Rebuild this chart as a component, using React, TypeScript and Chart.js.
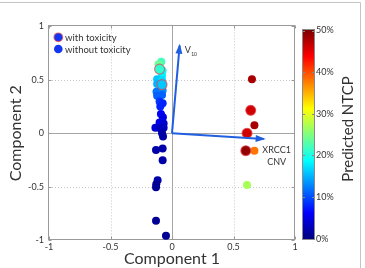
import { useEffect, useRef } from "react";
import { Chart, registerables } from "chart.js";

Chart.register(...registerables);

// Patient scores on the first two principal components
const pc1 = [
  -0.087, -0.109, -0.101, -0.076, -0.081, -0.121, -0.081, -0.121, -0.081,
  -0.126, -0.076, -0.121, -0.081, -0.101, -0.076, -0.095, -0.09, -0.074,
  -0.101, -0.068, -0.135, -0.095, -0.068, -0.081, -0.073, -0.13, -0.076,
  -0.076, -0.117, -0.128, -0.13, -0.13, -0.049,
  0.65, 0.64, 0.67, 0.61, 0.6, 0.67, 0.61,
];
const pc2 = [
  0.67, 0.645, 0.6, 0.585, 0.54, 0.505, 0.495, 0.46, 0.455,
  0.387, 0.4, 0.35, 0.357, 0.297, 0.28, 0.25, 0.18, 0.15,
  0.1, 0.09, 0.05, 0.045, 0.05, 0.0, -0.03, -0.158, -0.143,
  -0.253, -0.44, -0.477, -0.506, -0.82, -0.96,
  0.505, 0.214, 0.074, 0.0, -0.164, -0.164, -0.486,
];
// Predicted NTCP (%) for each patient
const ntcp = [
  22, 24, 21, 19, 18, 16, 17, 15, 16,
  12, 13, 11, 11, 9, 8, 8, 6, 5,
  5, 4, 4, 3, 3, 2, 2, 2, 2,
  2, 2, 1, 1, 1, 1,
  48, 46, 48, 46, 49, 38, 27,
];
// 1 = observed toxicity
const toxicity = [
  0, 0, 1, 0, 0, 0, 0, 0, 1,
  0, 0, 0, 0, 0, 0, 0, 0, 0,
  0, 0, 0, 0, 0, 0, 0, 0, 0,
  0, 0, 0, 0, 0, 0,
  0, 1, 0, 1, 1, 0, 0,
];

// Variable loadings shown as arrows
const loadingX = [0.062, 0.745];
const loadingY = [0.82, -0.054];

const axisTicks = [-1, -0.5, 0, 0.5, 1];
const ntcpTicks = [0, 10, 20, 30, 40, 50];
const legendLabels = ["with toxicity", "without toxicity"];

const FONT = "Lato, 'Open Sans', sans-serif";
const TEXT = "#333333";
const ARROW = "#1f5fe0";
const RING = "rgba(225,70,80,0.75)";
const LEGEND_BLUE = "#1336f2";

function jet(v: number): string {
  const t = Math.max(0, Math.min(1, v / 50));
  const c = (x: number) =>
    Math.round(255 * Math.max(0, Math.min(1, 1.5 - Math.abs(x))));
  return `rgb(${c(4 * t - 3)},${c(4 * t - 2)},${c(4 * t - 1)})`;
}

const crisp = (v: number) => Math.round(v) + 0.5;

const framePlugin = {
  id: "frame",
  beforeDatasetsDraw(chart: any) {
    const { ctx, chartArea: a, scales } = chart;
    const x = scales.x;
    const y = scales.y;
    ctx.save();
    ctx.lineWidth = 1;
    // dotted grid
    ctx.strokeStyle = "#c8c8c8";
    ctx.setLineDash([1, 2]);
    for (const v of axisTicks) {
      if (v === 0 || Math.abs(v) === 1) continue;
      const px = crisp(x.getPixelForValue(v));
      ctx.beginPath();
      ctx.moveTo(px, a.top);
      ctx.lineTo(px, a.bottom);
      ctx.stroke();
      const py = crisp(y.getPixelForValue(v));
      ctx.beginPath();
      ctx.moveTo(a.left, py);
      ctx.lineTo(a.right, py);
      ctx.stroke();
    }
    // zero lines
    ctx.setLineDash([]);
    ctx.strokeStyle = "#a6a6a6";
    const x0 = crisp(x.getPixelForValue(0));
    const y0 = crisp(y.getPixelForValue(0));
    ctx.beginPath();
    ctx.moveTo(x0, a.top);
    ctx.lineTo(x0, a.bottom);
    ctx.moveTo(a.left, y0);
    ctx.lineTo(a.right, y0);
    ctx.stroke();
    // box
    ctx.strokeStyle = "#9a9a9a";
    const l = crisp(a.left) - 1;
    const r = crisp(a.right) - 1;
    const t = crisp(a.top) - 1;
    const b = crisp(a.bottom) - 1;
    ctx.strokeRect(l, t, r - l, b - t);
    // inward tick marks
    ctx.beginPath();
    for (const v of axisTicks) {
      const px = crisp(x.getPixelForValue(v));
      ctx.moveTo(px, b);
      ctx.lineTo(px, b - 3);
      ctx.moveTo(px, t);
      ctx.lineTo(px, t + 3);
      const py = crisp(y.getPixelForValue(v));
      ctx.moveTo(l, py);
      ctx.lineTo(l + 3, py);
      ctx.moveTo(r, py);
      ctx.lineTo(r - 3, py);
    }
    ctx.stroke();
    ctx.restore();
  },
};

const overlayPlugin = {
  id: "overlay",
  afterDatasetsDraw(chart: any) {
    const { ctx, scales } = chart;
    const x = scales.x;
    const y = scales.y;
    ctx.save();
    // arrowheads
    loadingX.forEach((lx, i) => {
      const x1 = x.getPixelForValue(0);
      const y1 = y.getPixelForValue(0);
      const x2 = x.getPixelForValue(lx);
      const y2 = y.getPixelForValue(loadingY[i]);
      const ang = Math.atan2(y2 - y1, x2 - x1);
      const len = 8;
      const half = 3.5;
      ctx.fillStyle = ARROW;
      ctx.beginPath();
      ctx.moveTo(x2 + Math.cos(ang) * 2, y2 + Math.sin(ang) * 2);
      ctx.lineTo(
        x2 - Math.cos(ang) * len + Math.sin(ang) * half,
        y2 - Math.sin(ang) * len - Math.cos(ang) * half
      );
      ctx.lineTo(
        x2 - Math.cos(ang) * len - Math.sin(ang) * half,
        y2 - Math.sin(ang) * len + Math.cos(ang) * half
      );
      ctx.closePath();
      ctx.fill();
    });
    // loading labels
    ctx.fillStyle = TEXT;
    ctx.textBaseline = "middle";
    const vx = x.getPixelForValue(loadingX[0]);
    const vy = y.getPixelForValue(loadingY[0]);
    ctx.font = `9px ${FONT}`;
    ctx.textAlign = "left";
    ctx.fillText("V", vx + 5, vy + 4);
    const vw = ctx.measureText("V").width;
    ctx.font = `5px ${FONT}`;
    ctx.fillText("10", vx + 5.5 + vw, vy + 9);
    const cx = x.getPixelForValue(loadingX[1]);
    const cy = y.getPixelForValue(loadingY[1]);
    ctx.font = `9px ${FONT}`;
    ctx.textAlign = "center";
    ctx.fillText("XRCC1", cx + 13, cy + 11);
    ctx.fillText("CNV", cx + 13, cy + 23);

    // legend
    const lx = 58.3;
    const ly = [37.3, 49];
    ctx.textAlign = "left";
    ctx.font = `9.5px ${FONT}`;
    legendLabels.forEach((lab, i) => {
      ctx.beginPath();
      ctx.arc(lx, ly[i], 4.3, 0, Math.PI * 2);
      ctx.fillStyle = LEGEND_BLUE;
      ctx.fill();
      if (i === 0) {
        ctx.strokeStyle = RING;
        ctx.lineWidth = 1.2;
        ctx.stroke();
      }
      ctx.fillStyle = TEXT;
      ctx.fillText(lab, 65, ly[i] + 0.5);
    });
    ctx.restore();
  },
  afterDraw(chart: any) {
    const { ctx, scales } = chart;
    const cb = scales.cbar;
    ctx.save();
    // colour bar
    const left = 303;
    const right = 314;
    const top = cb.getPixelForValue(50);
    const bottom = cb.getPixelForValue(0);
    for (let py = Math.floor(top); py < Math.ceil(bottom); py++) {
      const v = cb.getValueForPixel(py + 0.5);
      ctx.fillStyle = jet(v);
      ctx.fillRect(left, py, right - left, 1);
    }
    ctx.strokeStyle = "#8a8a8a";
    ctx.lineWidth = 1;
    ctx.strokeRect(
      left - 0.5,
      Math.floor(top) - 0.5,
      right - left + 1,
      Math.ceil(bottom) - Math.floor(top) + 1
    );
    ctx.beginPath();
    for (const v of ntcpTicks) {
      const py = crisp(cb.getPixelForValue(v));
      ctx.moveTo(right, py);
      ctx.lineTo(right - 2, py);
      ctx.moveTo(left, py);
      ctx.lineTo(left + 2, py);
    }
    ctx.stroke();
    // colour bar title
    ctx.fillStyle = TEXT;
    ctx.font = `15px ${FONT}`;
    ctx.textAlign = "center";
    ctx.textBaseline = "middle";
    ctx.translate(348, 129);
    ctx.rotate(-Math.PI / 2);
    ctx.fillText("Predicted NTCP", 0, 0);
    ctx.restore();
    // outer frame
    ctx.save();
    ctx.strokeStyle = "#c4c4c4";
    ctx.lineWidth = 1;
    ctx.beginPath();
    ctx.moveTo(0, 2.5);
    ctx.lineTo(360.5, 2.5);
    ctx.lineTo(360.5, chart.height);
    ctx.stroke();
    ctx.restore();
  },
};

export default function App() {
  const ref = useRef<HTMLCanvasElement | null>(null);

  useEffect(() => {
    if (!ref.current) return;
    const idx = pc1.map((_, i) => i);
    const withTox = idx.filter((i) => toxicity[i] === 1);
    const withoutTox = idx.filter((i) => toxicity[i] === 0);
    const tickFont = { family: FONT, size: 9 };
    const plain = (v: any) => String(Number(v));

    const arrowSets = loadingX.map((lx, i) => ({
      type: "line" as const,
      data: [
        { x: 0, y: 0 },
        { x: lx, y: loadingY[i] },
      ],
      showLine: true,
      borderColor: ARROW,
      borderWidth: 2,
      pointRadius: 0,
      fill: false,
    }));

    const chart = new Chart(ref.current, {
      type: "scatter",
      data: {
        datasets: [
          ...arrowSets,
          {
            label: legendLabels[0],
            data: withTox.map((i) => ({ x: pc1[i], y: pc2[i] })),
            pointRadius: 5,
            pointBackgroundColor: withTox.map((i) => jet(ntcp[i])),
            pointBorderColor: RING,
            pointBorderWidth: 1.1,
          },
          {
            label: legendLabels[1],
            data: withoutTox.map((i) => ({ x: pc1[i], y: pc2[i] })),
            pointRadius: 4,
            pointBackgroundColor: withoutTox.map((i) => jet(ntcp[i])),
            pointBorderWidth: 0,
            pointBorderColor: "rgba(0,0,0,0)",
          },
        ] as any,
      },
      options: {
        animation: false,
        responsive: false,
        maintainAspectRatio: false,
        devicePixelRatio: 1,
        layout: { padding: { top: 16, left: 0, right: 0, bottom: 0 } },
        plugins: {
          legend: { display: false },
          tooltip: { enabled: false },
        },
        scales: {
          x: {
            type: "linear",
            min: -1,
            max: 1,
            afterBuildTicks: (s: any) => {
              s.ticks = axisTicks.map((v) => ({ value: v }));
            },
            ticks: {
              font: tickFont,
              color: TEXT,
              padding: 2,
              maxRotation: 0,
              callback: plain,
            },
            grid: { display: false, drawTicks: false },
            border: { display: false },
            title: {
              display: true,
              text: "Component 1",
              font: { family: FONT, size: 16 },
              color: TEXT,
              padding: { top: 0, bottom: 0 },
            },
            afterFit: (s: any) => {
              s.height = 28;
            },
          },
          y: {
            type: "linear",
            min: -1,
            max: 1,
            afterBuildTicks: (s: any) => {
              s.ticks = axisTicks.map((v) => ({ value: v }));
            },
            ticks: { font: tickFont, color: TEXT, padding: 5, callback: plain },
            grid: { display: false, drawTicks: false },
            border: { display: false },
            title: {
              display: true,
              text: "Component 2",
              font: { family: FONT, size: 16 },
              color: TEXT,
              padding: { top: 6, bottom: 0 },
            },
            afterFit: (s: any) => {
              s.width = 49;
            },
          },
          cbar: {
            type: "linear",
            position: "right",
            min: -0.3,
            max: 51,
            afterBuildTicks: (s: any) => {
              s.ticks = ntcpTicks.map((v) => ({ value: v }));
            },
            ticks: {
              font: tickFont,
              color: TEXT,
              padding: 21,
              callback: (v: any) => `${v}%`,
            },
            grid: { display: false, drawTicks: false },
            border: { display: false },
            afterFit: (s: any) => {
              s.width = 70;
            },
          },
        },
      } as any,
      plugins: [framePlugin, overlayPlugin],
    });
    return () => chart.destroy();
  }, []);

  return (
    <div
      style={{
        position: "fixed",
        left: 0,
        top: 0,
        width: 365,
        height: 268,
        background: "#ffffff",
      }}
    >
      <canvas ref={ref} width={365} height={268} style={{ display: "block" }} />
    </div>
  );
}
